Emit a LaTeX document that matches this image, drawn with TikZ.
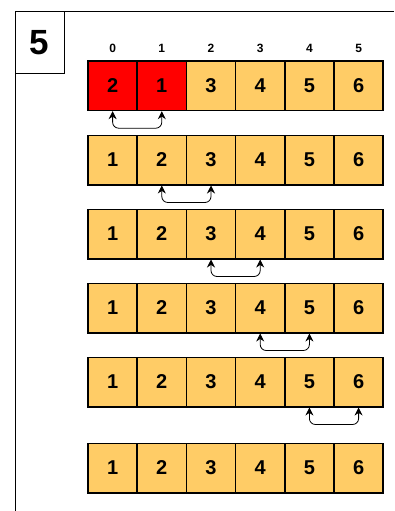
\documentclass[tikz,border=0pt]{standalone}
\usepackage{fontspec}
\setmainfont{Liberation Sans}
\usepackage{tikz}
\usetikzlibrary{arrows.meta}

\definecolor{cellorange}{HTML}{FFCC66}

\begin{document}
\begin{tikzpicture}[x=1pt, y=-1pt,
            cell/.style={draw, line width=1.5pt, fill=cellorange, minimum width=49.2pt, minimum height=49.5pt, inner sep=0pt, font=\fontsize{20}{24}\selectfont\bfseries},
            hot cell/.style={cell, fill=red},
            index/.style={font=\fontsize{12}{14}\selectfont\bfseries, inner sep=0pt},
            swap/.style={line width=0.8pt, rounded corners=6pt, {Stealth[length=8pt,width=8pt]}-{Stealth[length=8pt,width=8pt]}},
            ]
            \useasboundingbox (0,0) rectangle (394,511);

            % frame
            \draw[line width=1pt] (394,12) -- (15,12) -- (15,511);
            \node[draw, line width=1pt, fill=white, minimum width=49pt, minimum height=61pt, inner sep=0pt, font=\fontsize{35}{40}\selectfont\bfseries] (num) at (39.5,42.5) {5};

            % indices
            \node[index] (i0) at (112.6,48.5) {0};
            \node[index] (i1) at (161.8,48.5) {1};
            \node[index] (i2) at (211.0,48.5) {2};
            \node[index] (i3) at (260.2,48.5) {3};
            \node[index] (i4) at (309.4,48.5) {4};
            \node[index] (i5) at (358.6,48.5) {5};

            % row 1
            \node[hot cell] (a0) at (112.6,85.7) {2};
            \node[hot cell] (a1) at (161.8,85.7) {1};
            \node[cell] (a2) at (211.0,85.7) {3};
            \node[cell] (a3) at (260.2,85.7) {4};
            \node[cell] (a4) at (309.4,85.7) {5};
            \node[cell] (a5) at (358.6,85.7) {6};

            % row 2
            \node[cell] (b0) at (112.6,160) {1};
            \node[cell] (b1) at (161.8,160) {2};
            \node[cell] (b2) at (211.0,160) {3};
            \node[cell] (b3) at (260.2,160) {4};
            \node[cell] (b4) at (309.4,160) {5};
            \node[cell] (b5) at (358.6,160) {6};

            % row 3
            \node[cell] (c0) at (112.6,234) {1};
            \node[cell] (c1) at (161.8,234) {2};
            \node[cell] (c2) at (211.0,234) {3};
            \node[cell] (c3) at (260.2,234) {4};
            \node[cell] (c4) at (309.4,234) {5};
            \node[cell] (c5) at (358.6,234) {6};

            % row 4
            \node[cell] (d0) at (112.6,308) {1};
            \node[cell] (d1) at (161.8,308) {2};
            \node[cell] (d2) at (211.0,308) {3};
            \node[cell] (d3) at (260.2,308) {4};
            \node[cell] (d4) at (309.4,308) {5};
            \node[cell] (d5) at (358.6,308) {6};

            % row 5
            \node[cell] (e0) at (112.6,382) {1};
            \node[cell] (e1) at (161.8,382) {2};
            \node[cell] (e2) at (211.0,382) {3};
            \node[cell] (e3) at (260.2,382) {4};
            \node[cell] (e4) at (309.4,382) {5};
            \node[cell] (e5) at (358.6,382) {6};

            % row 6
            \node[cell] (f0) at (112.6,468) {1};
            \node[cell] (f1) at (161.8,468) {2};
            \node[cell] (f2) at (211.0,468) {3};
            \node[cell] (f3) at (260.2,468) {4};
            \node[cell] (f4) at (309.4,468) {5};
            \node[cell] (f5) at (358.6,468) {6};

            % swaps
            \draw[swap] (a0.south) -- ++(0,17) -| (a1.south);
            \draw[swap] (b1.south) -- ++(0,17) -| (b2.south);
            \draw[swap] (c2.south) -- ++(0,17) -| (c3.south);
            \draw[swap] (d3.south) -- ++(0,17) -| (d4.south);
            \draw[swap] (e4.south) -- ++(0,17) -| (e5.south);
        \end{tikzpicture}
\end{document}
